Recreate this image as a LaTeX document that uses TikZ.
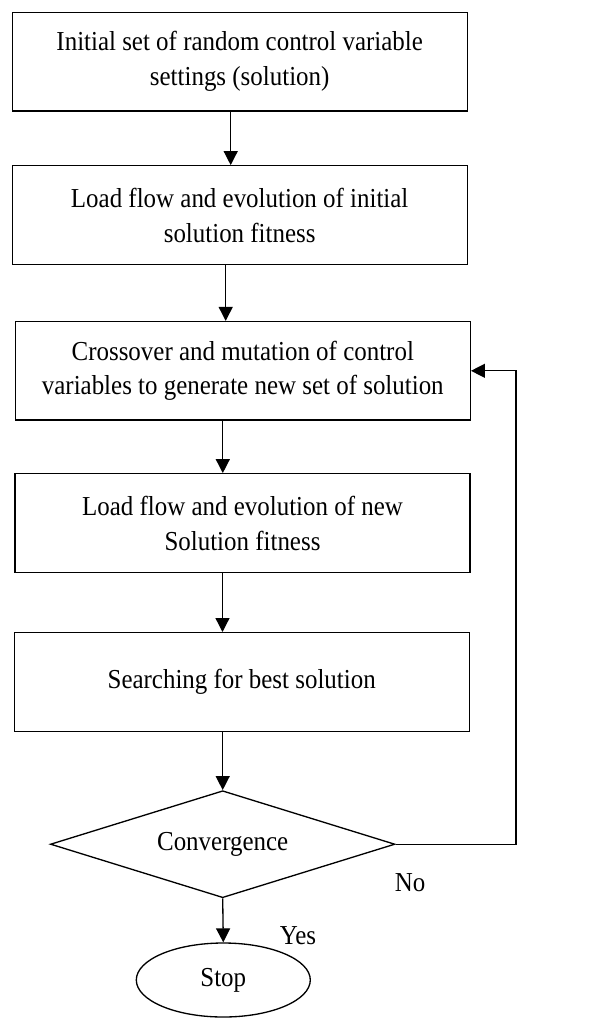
\documentclass[tikz,border=0pt]{standalone}
\usepackage{fontspec}
\setmainfont[FakeStretch=0.91]{Liberation Serif}
\usetikzlibrary{arrows.meta,shapes.geometric}
\tikzset{
  wire/.style={black, line width=0.75pt},
  flow/.style={wire, -{Triangle[length=2.8mm,width=2.8mm]}},
  stepbox/.style={draw=black, line width=0.75pt, fill=white,
                  minimum width=91mm, minimum height=19.7mm,
                  inner sep=0pt, align=center,
                  font=\fontsize{15.6}{19.9}\selectfont},
  decision/.style={draw=black, line width=0.75pt, diamond, aspect=3.2,
                   minimum width=68.9mm, minimum height=21.4mm,
                   inner sep=0pt, font=\fontsize{15.6}{19.9}\selectfont},
  terminal/.style={draw=black, line width=0.75pt, ellipse,
                   minimum width=34.8mm, minimum height=14.8mm,
                   inner sep=0pt, font=\fontsize{15.6}{19.9}\selectfont},
  lab/.style={font=\fontsize{15.6}{19.9}\selectfont},
}
\begin{document}
\begin{tikzpicture}[x=0.2mm,y=-0.2mm]
  \path[use as bounding box, fill=white] (0,0) rectangle (596,1024);

  \node[stepbox] (init) at (239.7,61.7)
    {Initial set of random control variable\\settings (solution)};
  \node[stepbox] (lf1) at (239.7,215.0)
    {Load flow and evolution of initial\\solution fitness};
  \node[stepbox] (cross) at (242.8,370.8)
    {Crossover and mutation of control\\variables to generate new set of solution};
  \node[stepbox] (lf2) at (242.5,523.0)
    {Load flow and evolution of new\\Solution fitness};
  \node[stepbox] (search) at (241.7,681.9)
    {Searching for best solution};
  \node[decision] (conv) at (222.7,844.2) {Convergence};
  \node[terminal] (stop) at (223.3,980.0) {Stop};

  \node[lab] (no) at (410,883) {No};
  \node[lab] (yes) at (298,936) {Yes};
  \coordinate (back) at (516,844.2);

  \draw[flow] ([xshift=-1.8mm]init.south) -- ([xshift=-1.8mm]init.south |- lf1.north);
  \draw[flow] ([xshift=-2.8mm]lf1.south) -- ([xshift=-2.8mm]lf1.south |- cross.north);
  \draw[flow] ([xshift=-4mm]cross.south) -- ([xshift=-4mm]cross.south |- lf2.north);
  \draw[flow] ([xshift=-4mm]lf2.south) -- ([xshift=-4mm]lf2.south |- search.north);
  \draw[flow] (search.south -| conv.north) -- (conv.north);
  \draw[flow] (conv.south) -- (stop.north);
  \draw[flow] (conv.east) -- (back) |- (cross.east);
\end{tikzpicture}
\end{document}
